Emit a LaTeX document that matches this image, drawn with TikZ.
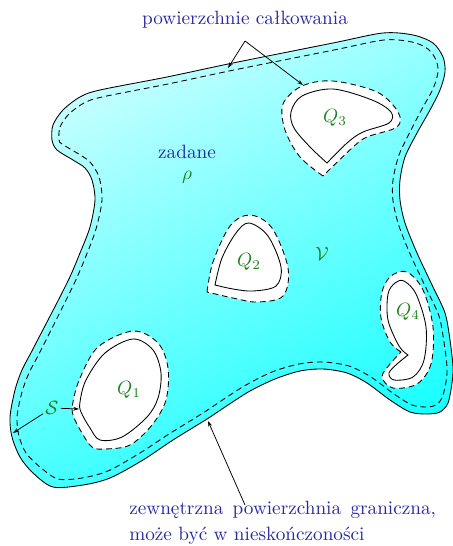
\documentclass[tikz,border=0pt]{standalone}
\usepackage{fontspec}
\usetikzlibrary{arrows.meta}
\definecolor{lblue}{RGB}{40,40,160}
\definecolor{lgreen}{RGB}{30,130,30}
\begin{document}
\begin{tikzpicture}[x=0.52pt,y=-0.52pt,
  lbl/.style={text=lblue, inner sep=1pt},
  glbl/.style={text=lgreen, inner sep=1pt},
  dashline/.style={draw=black, dash pattern=on 3pt off 2pt, line width=0.45pt},
  hole/.style={fill=white, dashline},
  core/.style={fill=white, draw=black, line width=0.45pt},
  arr/.style={-{Stealth[length=3pt,width=2pt]}, line width=0.4pt}]
\useasboundingbox (0,0) rectangle (453,546);
% outer region
\path[top color=cyan!22, bottom color=cyan!90, shading angle=28, draw=black, line width=0.45pt]
  plot[smooth cycle, tension=0.5] coordinates {
  (52,140) (53,125) (63,110) (80,97) (100,90) (167,77) (233,63) (333,43)
  (383,33) (413,35) (433,43) (443,57) (445,72) (440,90) (430,110) (417,133)
  (405,157) (400,180) (400,200) (405,223) (417,253) (433,287) (445,313)
  (450,340) (453,367) (452,383) (448,403) (440,412) (427,414) (410,412)
  (390,400) (367,383) (347,373) (323,369) (300,371) (275,379) (250,391)
  (228,405) (207,419) (173,440) (143,460) (110,478) (83,485) (53,487)
  (33,473) (20,457) (12,437) (10,417) (15,390) (22,370) (34,347)
  (67,283) (80,253) (90,227) (95,200) (92,180) (85,168) (73,160) (57,150)};
\path[dashline]
  plot[smooth cycle, tension=0.5] coordinates {
  (59,140) (60,127) (69,114) (84,103) (102,97) (168,84) (234,70) (334,50)
  (384,40) (412,42) (428,49) (436,60) (438,72) (433,89) (423,107) (411,130)
  (399,155) (393,180) (393,201) (399,226) (411,256) (427,290) (439,316)
  (444,342) (447,367) (446,382) (442,398) (436,405) (427,407) (412,405)
  (394,394) (371,377) (349,366) (323,362) (299,364) (272,372) (246,385)
  (224,399) (203,413) (169,434) (140,453) (108,471) (82,478) (58,479)
  (40,467) (26,453) (19,436) (17,417) (22,392) (29,373) (41,350)
  (73,286) (86,256) (96,229) (102,200) (99,177) (90,162) (77,153) (62,144)};
% Q3
\path[hole] plot[smooth, tension=0.55] coordinates {
  (323,176) (300,157) (285,130) (283,104) (302,86) (333,81) (377,92)
  (398,112) (397,127) (367,137) (352,148) (323,176)} -- cycle;
\path[core] plot[smooth, tension=0.55] coordinates {
  (327,163) (310,147) (294,128) (291,112) (302,96) (333,89) (372,100)
  (391,112) (389,123) (363,132) (347,143) (327,163)} -- cycle;
% Q2
\path[hole] plot[smooth, tension=0.55] coordinates {
  (207,292) (213,262) (230,226) (250,215) (272,228) (288,268) (283,296)
  (257,302) (233,298) (207,292)} -- cycle;
\path[core] plot[smooth, tension=0.55] coordinates {
  (215,285) (222,258) (236,233) (249,223) (268,236) (281,267) (276,286)
  (253,291) (233,289) (215,285)} -- cycle;
% Q4
\path[hole] plot[smooth, tension=0.55] coordinates {
  (401,352) (390,342) (381,318) (382,292) (391,276) (407,272) (423,290)
  (433,327) (431,364) (417,384) (393,388) (382,377) (390,364) (401,352)} -- cycle;
\path[core] plot[smooth, tension=0.55] coordinates {
  (408,355) (399,346) (388,320) (388,294) (395,283) (404,281) (416,294)
  (426,327) (424,360) (413,377) (394,380) (389,373) (397,364) (408,355)} -- cycle;
% Q1
\path[hole] plot[smooth cycle, tension=0.55] coordinates {
  (73,402) (80,378) (98,347) (133,331) (158,343) (168,368) (166,400)
  (152,425) (130,445) (105,449) (92,447) (82,433) (73,415)};
\path[core] plot[smooth cycle, tension=0.55] coordinates {
  (80,402) (86,380) (105,353) (133,339) (153,350) (161,373) (158,398)
  (147,417) (122,437) (100,440) (90,428) (81,412)};
% labels
\node[lbl] (top) at (245,20) {powierzchnie całkowania};
\node[lbl] (zad) at (187,152) {zadane};
\node[glbl] (rho) at (187,177) {$\rho$};
\node[glbl] (q3) at (335,118) {$Q_3$};
\node[glbl] (q2) at (249,262) {$Q_2$};
\node[glbl] (vv) at (322,254) {$\mathcal{V}$};
\node[glbl] (q4) at (408,312) {$Q_4$};
\node[glbl] (q1) at (129,390) {$Q_1$};
\node[glbl] (S) at (52,408) {$\mathcal{S}$};
\node[lbl, anchor=north west, text width=159.5pt, align=justify,
      font=\fontsize{10}{13.5}\selectfont] (bot) at (127,499)
  {zewnętrzna powierzchnia graniczna, może być w nieskończoności};
% connectors
\coordinate (j) at (245,41);
\coordinate (e1) at (228,68);
\coordinate (e2) at (303,85);
\coordinate (s1) at (13,433);
\coordinate (s2) at (79,409);
\coordinate (b0) at (245,505);
\coordinate (b1) at (208,421);
\draw[arr] (j) -- (e1);
\draw[arr] (j) -- (e2);
\draw[arr] (S) -- (s1);
\draw[arr] (S) -- (s2);
\draw[arr] (b0) -- (b1);
\end{tikzpicture}
\end{document}
